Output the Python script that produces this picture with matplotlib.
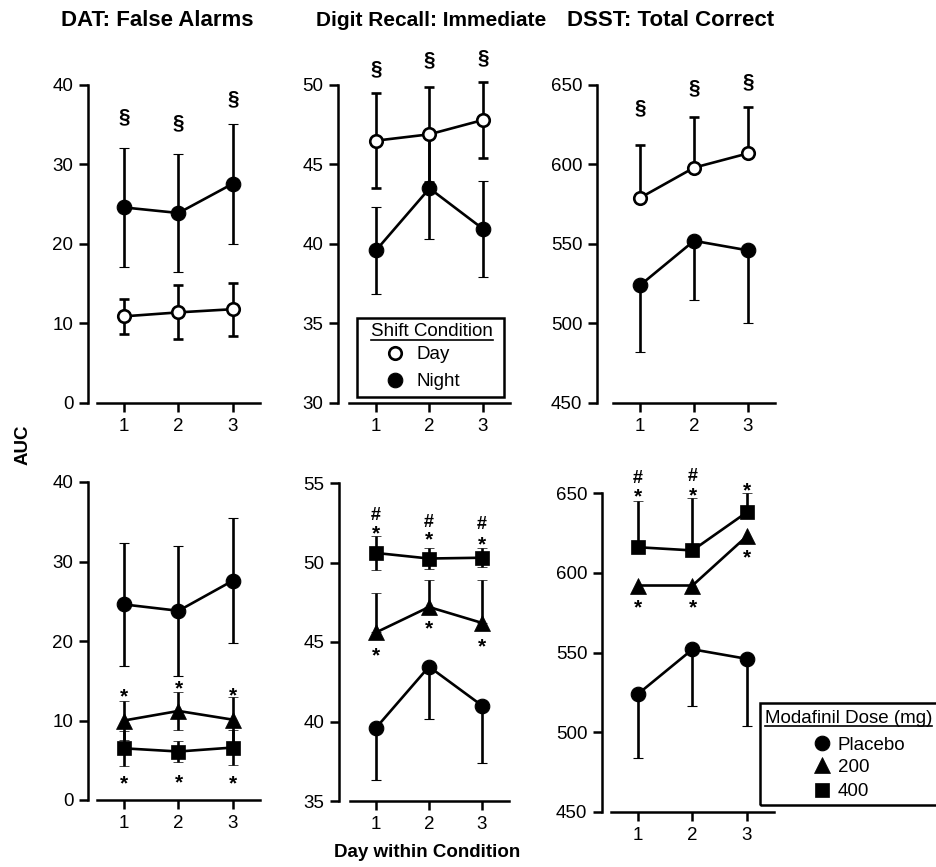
import matplotlib
matplotlib.use("Agg")
import matplotlib.pyplot as plt
from matplotlib.lines import Line2D
from matplotlib.patches import Rectangle

plt.rcParams['font.family'] = ['Liberation Sans', 'DejaVu Sans']

days = [1, 2, 3]

# DAT: false alarms
dat_day = [10.9, 11.4, 11.8]
dat_day_err = [2.2, 3.4, 3.35]
dat_night = [24.6, 23.9, 27.6]
dat_night_err = [7.5, 7.45, 7.55]
dat_pbo = [24.6, 23.8, 27.6]
dat_pbo_err = [7.75, 8.2, 7.85]
dat_200 = [10.0, 11.2, 10.1]
dat_200_err = [2.4, 2.4, 2.8]
dat_400 = [6.5, 6.1, 6.6]
dat_400_err = [2.2, 1.3, 2.2]

# Digit recall: immediate
dig_day = [46.5, 46.9, 47.8]
dig_day_err = [3.0, 3.0, 2.4]
dig_night = [39.6, 43.5, 40.95]
dig_night_err = [2.75, 3.2, 3.0]
dig_pbo = [39.6, 43.45, 41.0]
dig_pbo_err = [3.3, 3.3, 3.6]
dig_200 = [45.6, 47.2, 46.2]
dig_200_err = [2.5, 1.7, 2.7]
dig_400 = [50.6, 50.25, 50.3]
dig_400_err = [1.05, 0.65, 0.6]

# DSST: total correct
dsst_day = [579, 598, 607]
dsst_day_err = [33, 32, 29]
dsst_night = [524, 552, 546]
dsst_night_err = [42, 37, 46]
dsst_pbo = [524, 552, 546]
dsst_pbo_err = [40, 35.5, 42]
dsst_200 = [592, 592, 623]
dsst_400 = [616, 614, 638]
dsst_400_err = [29, 33, 12]

# significance marks (y positions)
dat_sect_y = [36.0, 35.3, 38.3]
dig_sect_y = [51.05, 51.6, 51.7]
dsst_sect_y = [636, 648, 652]
dat_star200_y = [13.8, 14.75, 13.95]
dat_star400_y = [2.8, 3.0, 2.8]
dig_star400_y = [52.2, 51.85, 51.5]
dig_hash400_y = [53.1, 52.65, 52.5]
dig_star200_y = [44.5, 46.2, 45.1]
dsst_star400_y = [651.3, 652.3, 655.4]
dsst_hash_days = [1, 2]
dsst_hash400_y = [660.4, 661.5]
dsst_star200_y = [581.7, 581.7, 613.4]

W, H = 937, 867
fig = plt.figure(figsize=(W / 100, H / 100), dpi=100)

LW = 1.9


def make_axes(spine_x, t1, t3, top, bottom, ylim, yticks):
    u = (t3 - t1) / 2
    x0 = 1 - (t1 - spine_x) / u
    ax = fig.add_axes([spine_x / W, 1 - bottom / H, (3.5 - x0) * u / W, (bottom - top) / H])
    ax.set_xlim(x0, 3.5)
    ax.set_ylim(*ylim)
    ax.patch.set_visible(False)
    for s in ['top', 'right']:
        ax.spines[s].set_visible(False)
    for s in ['left', 'bottom']:
        ax.spines[s].set_linewidth(1.8)
    ax.spines['bottom'].set_bounds(0.5, 3.5)
    ax.set_xticks(days)
    ax.set_yticks(yticks)
    ax.tick_params(direction='out', length=6.5, width=1.8, labelsize=13.5, pad=4)
    return ax


night_style = dict(marker='o', ms=10.5, mfc='k', mec='k', mew=0.8)
day_style = dict(marker='o', ms=9, mfc='white', mec='k', mew=1.9)
tri_style = dict(marker='^', ms=11, mfc='k', mec='k', mew=0.5)
sq_style = dict(marker='s', ms=10, mfc='k', mec='k', mew=0.5)


def series(ax, y, err, style, below=True, above=True):
    if err is None:
        ax.plot(days, y, color='k', lw=LW, clip_on=False, zorder=2.1, **style)
        return
    lo = err if below else [0] * len(err)
    hi = err if above else [0] * len(err)
    ax.errorbar(days, y, yerr=[lo, hi], color='k', lw=LW, elinewidth=LW,
                capsize=3.5, capthick=LW, clip_on=False, **style)


def mark(ax, xs, ys, s, fs, dy, weight='bold'):
    for x, y in zip(xs, ys):
        ax.annotate(s, (x, y), xytext=(0, -dy * fs), textcoords='offset points',
                    ha='center', va='baseline', fontsize=fs, fontweight=weight,
                    annotation_clip=False)


SECT = ('§', 15, 0.27)
STAR = ('*', 15, 0.57)
HASH = ('#', 13, 0.36)

# top row: shift condition
ax1 = make_axes(88, 124, 233, 85, 403, (0, 40), [0, 10, 20, 30, 40])
series(ax1, dat_night, dat_night_err, night_style)
series(ax1, dat_day, dat_day_err, day_style)
mark(ax1, days, dat_sect_y, *SECT)

ax2 = make_axes(338, 376, 483, 85, 403, (30, 50), [30, 35, 40, 45, 50])
series(ax2, dig_night, dig_night_err, night_style)
series(ax2, dig_day, dig_day_err, day_style)
mark(ax2, days, dig_sect_y, *SECT)

ax3 = make_axes(597, 640, 748, 85, 403, (450, 650), [450, 500, 550, 600, 650])
series(ax3, dsst_night, dsst_night_err, night_style, above=False)
series(ax3, dsst_day, dsst_day_err, day_style, below=False)
mark(ax3, days, dsst_sect_y, *SECT)

# bottom row: modafinil dose
ax4 = make_axes(88, 124, 233, 482, 800, (0, 40), [0, 10, 20, 30, 40])
series(ax4, dat_pbo, dat_pbo_err, night_style)
series(ax4, dat_200, dat_200_err, tri_style)
series(ax4, dat_400, dat_400_err, sq_style)
mark(ax4, days, dat_star200_y, *STAR)
mark(ax4, days, dat_star400_y, *STAR)

ax5 = make_axes(339, 376, 482, 483, 801, (35, 55), [35, 40, 45, 50, 55])
series(ax5, dig_pbo, dig_pbo_err, night_style, above=False)
series(ax5, dig_200, dig_200_err, tri_style, below=False)
series(ax5, dig_400, dig_400_err, sq_style)
mark(ax5, days, dig_star400_y, *STAR)
mark(ax5, days, dig_hash400_y, *HASH)
mark(ax5, days, dig_star200_y, *STAR)

ax6 = make_axes(602, 638, 747, 493, 812, (450, 650), [450, 500, 550, 600, 650])
series(ax6, dsst_pbo, dsst_pbo_err, night_style, above=False)
series(ax6, dsst_200, None, tri_style)
series(ax6, dsst_400, dsst_400_err, sq_style, below=False)
mark(ax6, days, dsst_star400_y, *STAR)
mark(ax6, dsst_hash_days, dsst_hash400_y, *HASH)
mark(ax6, days, dsst_star200_y, *STAR)


def px(x, y):
    return x / W, 1 - y / H


# panel titles and axis labels
for s, x, fs in [('DAT: False Alarms', 157, 16), ('Digit Recall: Immediate', 431, 15),
                 ('DSST: Total Correct', 671, 16)]:
    fig.text(*px(x, 26.5), s, ha='center', va='baseline', fontsize=fs, fontweight='bold')
fig.text(*px(23, 445), 'AUC', rotation=90, ha='center', va='center', fontsize=13.5, fontweight='bold')
fig.text(*px(427, 857), 'Day within Condition', ha='center', va='baseline', fontsize=13.5, fontweight='bold')


# legends drawn as keys in figure space
def key(box, title, title_xy, title_ha, entries):
    x0, y0, x1, y1 = box
    fig.add_artist(Rectangle(px(x0, y1), (x1 - x0) / W, (y1 - y0) / H, transform=fig.transFigure,
                             fill=False, lw=1.8, ec='k', clip_on=False))
    t = fig.text(*px(*title_xy), title, ha=title_ha, va='baseline', fontsize=13.5)
    for (mx, my), tx, label, style in entries:
        fig.add_artist(Line2D([mx / W], [1 - my / H], transform=fig.transFigure, ls='none', **style))
        fig.text(*px(tx, my + 6.5), label, ha='left', va='baseline', fontsize=13.5)
    return t


t_shift = key((357, 318, 504, 397), 'Shift Condition', (432, 336.5), 'center',
              [((395, 353), 417, 'Day', day_style), ((395, 380), 417, 'Night', night_style)])
t_dose = key((760, 703, 960, 805), 'Modafinil Dose (mg)', (765, 723), 'left',
             [((822, 743), 838, 'Placebo', night_style), ((822, 765), 838, '200', tri_style),
              ((822, 790), 838, '400', sq_style)])

fig.canvas.draw()
for t, uy in [(t_shift, 339.5), (t_dose, 726)]:
    bb = t.get_window_extent()
    fig.add_artist(Line2D([bb.x0 / W, bb.x1 / W], [1 - uy / H] * 2, transform=fig.transFigure,
                          color='k', lw=1.2))

fig.savefig('out.png', dpi=100)
